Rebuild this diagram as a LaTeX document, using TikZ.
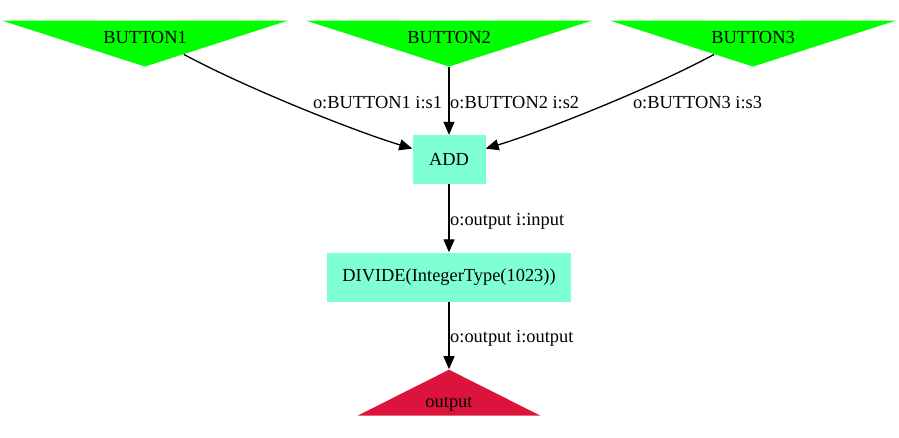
\documentclass[tikz,border=0pt]{standalone}
\usepackage{fontspec}
\setmainfont{Liberation Serif}
\usepackage{tikz}
\usetikzlibrary{shapes.geometric}
\usetikzlibrary{arrows.meta}
\usetikzlibrary{calc}
\usetikzlibrary{positioning}
\definecolor{btngreen}{HTML}{00FF00}
\definecolor{opaqua}{HTML}{7FFFD4}
\definecolor{outred}{HTML}{DC143C}

\begin{document}
\begin{tikzpicture}
      [
      x=1pt, y=-1pt,
      every node/.style={font=\fontsize{18.4}{22}\selectfont},
      button/.style={isosceles triangle, isosceles triangle stretches, shape border rotate=-90,
        fill=btngreen, inner sep=0pt, minimum width=286pt, minimum height=46pt},
      operator/.style={rectangle, fill=opaqua, inner sep=0pt, minimum height=49pt},
      sink/.style={isosceles triangle, isosceles triangle stretches, shape border rotate=90,
        fill=outred, inner sep=0pt, minimum width=183pt, minimum height=46pt},
      edge/.style={line width=1.3pt, -{Triangle[length=13pt,width=11pt]}},
      port/.style={inner sep=0pt, anchor=base}
      ]
      \useasboundingbox (0,0) rectangle (899,437);
      % inputs
      \node (b1) at (145,43) [button] {};
      \node (b2) at (449,43) [button] {};
      \node (b3) at (753,43) [button] {};
      \node (b1text) at (145,43.3) [port] {BUTTON1};
      \node (b2text) at (449,43.3) [port] {BUTTON2};
      \node (b3text) at (753,43.3) [port] {BUTTON3};
      % operators
      \node (add) at (449,159.5) [operator, minimum width=73pt] {ADD};
      \node (divide) at (449,277) [operator, minimum width=244pt] {DIVIDE(IntegerType(1023))};
      % output
      \node (out) at (449,394) [sink] {};
      \node (outtext) at (449,407.7) [port] {output};
      % edges
      \draw [edge] ($(b1.apex)!0.27!(b1.left corner)$) .. controls (250,90) and (360,133) .. (add);
      \draw [edge] (b2) -- (add);
      \draw [edge] ($(b3.apex)!0.27!(b3.right corner)$) .. controls (648,90) and (538,133) .. (add);
      \draw [edge] (add) -- (divide);
      \draw [edge] (divide) -- (out);
      \node (l1) at (377.5,108.3) [port] {o:BUTTON1 i:s1};
      \node (l2) at (450,108.3) [port, anchor=base west] {o:BUTTON2 i:s2};
      \node (l3) at (697.5,108.3) [port] {o:BUTTON3 i:s3};
      \node (l4) at (450,225) [port, anchor=base west] {o:output i:input};
      \node (l5) at (450,342.7) [port, anchor=base west] {o:output i:output};
\end{tikzpicture}
\end{document}
